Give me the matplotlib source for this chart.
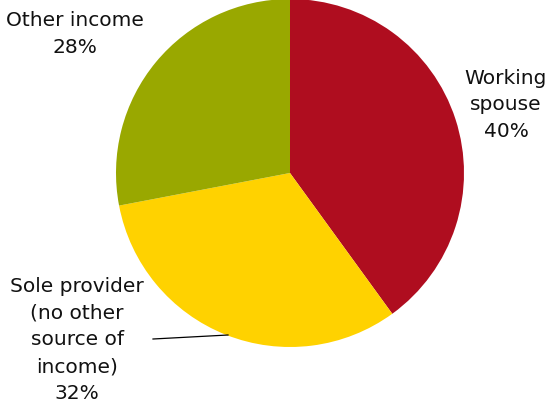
import matplotlib.pyplot as plt

# income sources, clockwise from 12 o'clock
labels = ["Working\nspouse\n40%", "Sole provider\n(no other\nsource of\nincome)\n32%", "Other income\n28%"]
shares = [40, 32, 28]
colors = ["#AF0D1F", "#FFD200", "#99A800"]

W, H = 551, 406
fig = plt.figure(figsize=(W / 100, H / 100), dpi=100)
ax = fig.add_axes([0, 0, 1, 1])

cx, cy, r = 290, H - 174, 174
ax.pie(shares, colors=colors, startangle=90, counterclock=False,
       center=(cx, cy), radius=r, frame=True,
       wedgeprops=dict(linewidth=0))
ax.set_xlim(0, W)
ax.set_ylim(0, H)
ax.set_aspect("equal")
ax.axis("off")

font = dict(fontsize=14.5, family="DejaVu Sans", color="#111111",
            ha="center", va="center", linespacing=1.52)
ax.text(506, H - 105, labels[0], **font)
ax.text(77, H - 340, labels[1], **font)
ax.text(75, H - 34, labels[2], **font)

# leader line for the sole provider label
ax.plot([153, 228], [H - 340, H - 336], color="black", lw=0.9)

fig.savefig("out.png", dpi=100)
